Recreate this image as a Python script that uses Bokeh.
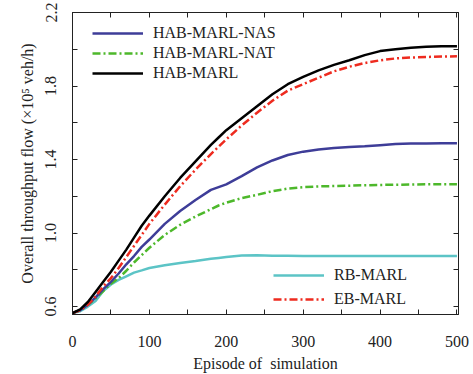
from bokeh.plotting import figure
from bokeh.models import (Range1d, FixedTicker, LinearAxis, Legend, LegendItem,
                          ColumnDataSource, PrintfTickFormatter)
from bokeh.embed import file_html
from bokeh.resources import INLINE

# ---- data ----
episodes = [0, 10, 20, 30, 40, 50, 60, 70, 80, 90, 100, 120, 140, 160, 180, 190,
            200, 220, 240, 260, 280, 300, 320, 340, 360, 380, 400, 420, 440, 460, 480, 500]

hab_marl = [0.565, 0.585, 0.625, 0.68, 0.735, 0.79, 0.85, 0.91, 0.975, 1.04, 1.095,
            1.2, 1.3, 1.39, 1.48, 1.52, 1.56, 1.625, 1.69, 1.755, 1.81, 1.85, 1.885,
            1.915, 1.94, 1.968, 1.99, 2.0, 2.008, 2.013, 2.016, 2.017]
eb_marl = [0.565, 0.58, 0.61, 0.655, 0.71, 0.755, 0.81, 0.87, 0.93, 0.99, 1.05,
           1.155, 1.255, 1.345, 1.43, 1.47, 1.51, 1.585, 1.655, 1.72, 1.775, 1.81,
           1.845, 1.88, 1.905, 1.925, 1.94, 1.95, 1.955, 1.958, 1.96, 1.962]
hab_marl_nas = [0.565, 0.58, 0.61, 0.65, 0.695, 0.735, 0.78, 0.83, 0.875, 0.925, 0.965,
                1.05, 1.12, 1.18, 1.235, 1.25, 1.265, 1.31, 1.357, 1.395, 1.425, 1.443,
                1.455, 1.463, 1.468, 1.472, 1.478, 1.484, 1.487, 1.487, 1.488, 1.488]
hab_marl_nat = [0.565, 0.58, 0.61, 0.645, 0.685, 0.725, 0.755, 0.795, 0.84, 0.88, 0.92,
                0.99, 1.045, 1.09, 1.13, 1.15, 1.165, 1.19, 1.208, 1.228, 1.242, 1.25,
                1.254, 1.256, 1.258, 1.26, 1.262, 1.263, 1.264, 1.265, 1.265, 1.265]
rb_marl = [0.565, 0.575, 0.6, 0.63, 0.685, 0.72, 0.745, 0.765, 0.785, 0.797, 0.81,
           0.825, 0.837, 0.848, 0.86, 0.865, 0.87, 0.878, 0.879, 0.877, 0.876, 0.875,
           0.875, 0.875, 0.875, 0.875, 0.875, 0.875, 0.875, 0.875, 0.875, 0.875]

x_ticks = [0, 100, 200, 300, 400, 500]
x_minor = [50, 150, 250, 350, 450]
y_ticks = [0.6, 1.0, 1.4, 1.8, 2.2]
y_minor = [0.8, 1.2, 1.6, 2.0]

FONT = "Liberation Serif"

p = figure(width=473, height=374, output_backend="svg", toolbar_location=None,
           x_range=Range1d(0, 502), y_range=Range1d(0.557, 2.2),
           min_border_left=72, min_border_right=15, min_border_top=12,
           min_border_bottom=58)
p.grid.visible = False
p.outline_line_color = "#222222"
p.outline_line_width = 1
p.background_fill_color = "white"
p.border_fill_color = "white"

def style_axis(ax, labels=True):
    ax.major_tick_in = 5
    ax.major_tick_out = 0
    ax.minor_tick_in = 5
    ax.minor_tick_out = 0
    ax.axis_line_color = "#222222"
    ax.major_tick_line_color = "#222222"
    ax.minor_tick_line_color = "#222222"
    ax.major_label_text_font = FONT
    if labels:
        ax.major_label_text_font_size = "16px"
        ax.major_label_text_color = "#222222"
    else:
        ax.major_label_text_font_size = "1px"
        ax.major_label_text_color = None
        ax.major_label_standoff = 0
    ax.axis_label_text_font = FONT
    ax.axis_label_text_font_size = "16px"
    ax.axis_label_text_font_style = "normal"
    ax.axis_label_text_color = "#222222"

p.xaxis.ticker = FixedTicker(ticks=x_ticks, minor_ticks=x_minor)
p.yaxis.ticker = FixedTicker(ticks=y_ticks, minor_ticks=y_minor)
p.yaxis.formatter = PrintfTickFormatter(format="%.1f")
style_axis(p.xaxis[0])
style_axis(p.yaxis[0])
p.xaxis.axis_label = "Episode of\u00a0 simulation"
p.yaxis.axis_label = "Overall throughput flow (×10⁵ veh/h)"
p.yaxis.major_label_orientation = "vertical"
p.xaxis.major_label_standoff = 21
p.xaxis.axis_label_standoff = 5
p.yaxis.major_label_standoff = 16
p.yaxis.axis_label_standoff = 7

top = LinearAxis(ticker=FixedTicker(ticks=x_ticks, minor_ticks=x_minor))
style_axis(top, labels=False)
p.add_layout(top, "above")
right = LinearAxis(ticker=FixedTicker(ticks=y_ticks, minor_ticks=y_minor))
style_axis(right, labels=False)
p.add_layout(right, "right")

src = ColumnDataSource(dict(x=episodes, nas=hab_marl_nas, nat=hab_marl_nat,
                            hab=hab_marl, rb=rb_marl, eb=eb_marl))

r_rb = p.line("x", "rb", source=src, line_color="#5cc4c6", line_width=2.5)
r_nat = p.line("x", "nat", source=src, line_color="#4db82b", line_width=2.5,
               line_dash="8 3 2 3")
r_nas = p.line("x", "nas", source=src, line_color="#3e3d98", line_width=2.5)
r_eb = p.line("x", "eb", source=src, line_color="#ee2b1f", line_width=2.5,
              line_dash="8 3 2 3")
r_hab = p.line("x", "hab", source=src, line_color="#000000", line_width=2.5)

leg1 = Legend(items=[LegendItem(label="HAB-MARL-NAS", renderers=[r_nas]),
                     LegendItem(label="HAB-MARL-NAT", renderers=[r_nat]),
                     LegendItem(label="HAB-MARL", renderers=[r_hab])],
              location=(20, 231), orientation="vertical")
leg2 = Legend(items=[LegendItem(label="RB-MARL", renderers=[r_rb]),
                     LegendItem(label="EB-MARL", renderers=[r_eb])],
              location=(201, 3), orientation="vertical")
for lg, h in ((leg1, 20.5), (leg2, 24)):
    lg.border_line_color = None
    lg.background_fill_alpha = 0
    lg.padding = 0
    lg.margin = 0
    lg.spacing = 0
    lg.glyph_width = 51
    lg.glyph_height = int(h)
    lg.label_height = int(h)
    lg.label_standoff = 10
    lg.label_text_font = FONT
    lg.label_text_font_size = "16px"
    lg.label_text_color = "#222222"
    p.add_layout(lg, "center")

open("out.html", "w").write(file_html(p, INLINE))
